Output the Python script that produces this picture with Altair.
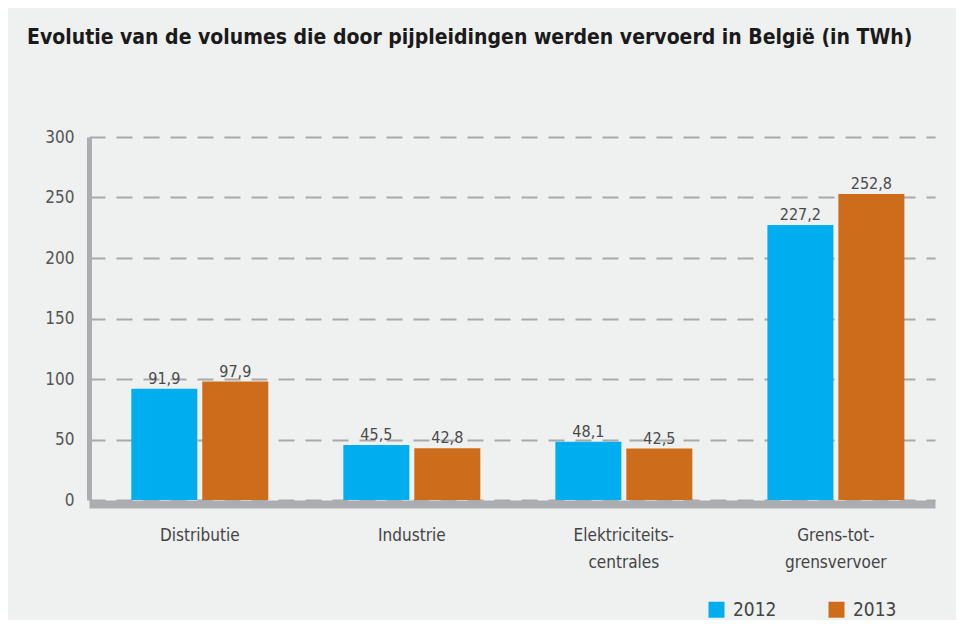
import altair as alt
import pandas as pd

categories = ["Distributie", "Industrie", "Elektriciteits-|centrales", "Grens-tot-|grensvervoer"]
years = ["2012", "2013"]
v2012 = [91.9, 45.5, 48.1, 227.2]
v2013 = [97.9, 42.8, 42.5, 252.8]
y_ticks = [0, 50, 100, 150, 200, 250, 300]
colors = ["#00aeef", "#cd6c1b"]

rows = []
for c, a, b in zip(categories, v2012, v2013):
    rows.append({"cat": c, "year": "2012", "value": a, "label": f"{a:.1f}".replace(".", ",")})
    rows.append({"cat": c, "year": "2013", "value": b, "label": f"{b:.1f}".replace(".", ",")})
df = pd.DataFrame(rows)

FONT = "DejaVu Sans Condensed"
GRAY = "#acadb0"

base = alt.Chart(df).encode(
    x=alt.X(
        "cat:N",
        sort=categories,
        scale=alt.Scale(paddingInner=0.354, paddingOuter=0.172, align=0.58),
        axis=alt.Axis(
            title=None, labelAngle=0, labelExpr="split(datum.label, '|')",
            ticks=False, domainWidth=8, domainColor=GRAY, offset=4,
            labelPadding=23, labelFontSize=17, labelColor="#444444",
            labelFont=FONT, labelLineHeight=27, labelBaseline="top",
        ),
    ),
    xOffset=alt.XOffset("year:N", sort=years, scale=alt.Scale(paddingInner=0.07)),
    y=alt.Y(
        "value:Q",
        scale=alt.Scale(domain=[0, 300], nice=False),
        axis=alt.Axis(
            title=None, values=y_ticks, ticks=False, domainWidth=5,
            domainColor=GRAY, labelPadding=15, labelFontSize=17,
            labelColor="#555555", labelFont=FONT, grid=True,
            gridDash=[16, 11], gridColor="#a9a9a9", gridWidth=2,
        ),
    ),
)

bars = base.mark_bar().encode(
    color=alt.Color(
        "year:N",
        scale=alt.Scale(domain=years, range=colors),
        legend=alt.Legend(
            title=None, orient="none", legendX=618, legendY=463,
            direction="horizontal", symbolType="square", symbolSize=256,
            symbolStrokeWidth=0, symbolOpacity=1, labelFontSize=19,
            labelColor="#444444", labelFont=FONT, columnPadding=50,
            labelOffset=7,
        ),
    )
)

texts = base.mark_text(
    baseline="alphabetic", dy=-5, fontSize=16, font=FONT, color="#4a4a4a"
).encode(text="label:N")

chart = (
    alt.layer(bars, texts)
    .properties(
        width=846,
        height=363,
        padding={"left": 81, "top": 129, "right": 21, "bottom": 120},
        autosize=alt.AutoSizeParams(type="none"),
        title=alt.Title(
            "Evolutie van de volumes die door pijpleidingen werden vervoerd in België (in TWh)",
            anchor="start", frame="group", dx=-62, offset=63,
            baseline="alphabetic", font=FONT, fontSize=21, fontWeight="bold",
            color="#1a1a1a",
        ),
    )
    .configure(background="#eff0f0")
    .configure_view(stroke=None)
)

chart.save("out.html", embed_options={"renderer": "svg", "actions": False})
